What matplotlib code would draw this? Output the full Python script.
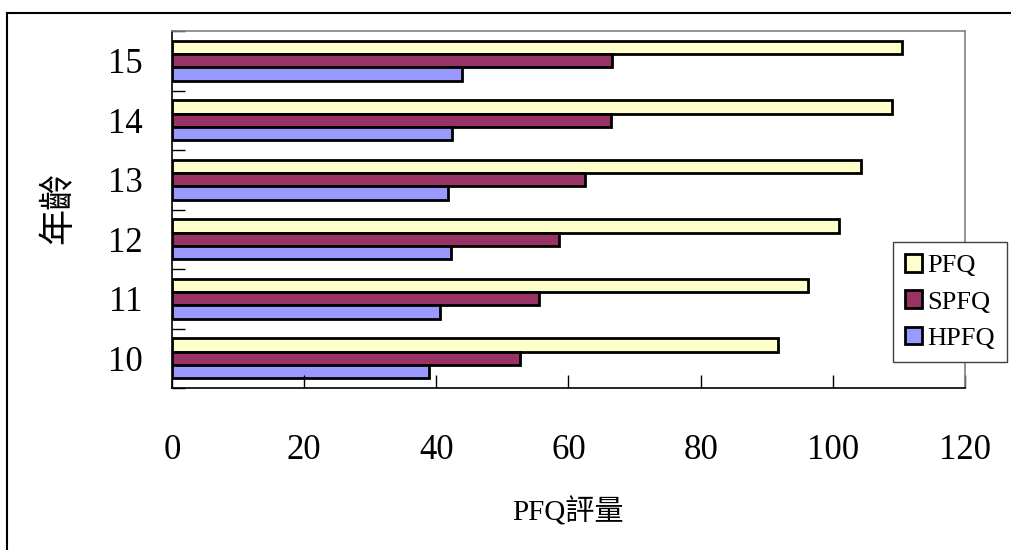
import numpy as np
import matplotlib
matplotlib.use("Agg")
import matplotlib.pyplot as plt
from matplotlib.lines import Line2D

plt.rcParams['font.family'] = ['Liberation Serif', 'Noto Sans CJK TC', 'DejaVu Sans']

ages = ["10", "11", "12", "13", "14", "15"]
series_names = ["PFQ", "SPFQ", "HPFQ"]
pfq = [91.7, 96.2, 101.0, 104.2, 108.9, 110.5]
spfq = [52.7, 55.6, 58.6, 62.5, 66.5, 66.6]
hpfq = [38.9, 40.6, 42.2, 41.7, 42.3, 43.9]
colors = ["#FFFFCC", "#993366", "#9999FF"]

W, H = 1012, 550
fig = plt.figure(figsize=(W / 100, H / 100), dpi=100)
ax = fig.add_axes([172 / W, 1 - 388 / H, (965 - 172) / W, (388 - 31) / H])

y = np.arange(len(ages))
h = 2 / 9
for vals, off, c, name in zip([pfq, spfq, hpfq], [h, 0, -h], colors, series_names):
    ax.barh(y + off, vals, height=h, color=c, edgecolor="black", linewidth=2.0, label=name)

ax.set_xlim(0, 120)
ax.set_ylim(-0.5, len(ages) - 0.5)
ax.set_xticks(np.arange(0, 121, 20))
ax.set_yticks(np.arange(-0.5, len(ages), 1))
ax.set_yticklabels([])
ax.set_yticks(y, minor=True)
ax.set_yticklabels(ages, minor=True)
ax.tick_params(axis="y", which="major", direction="in", length=9.4, width=1, color="black")
ax.tick_params(axis="y", which="minor", length=0, pad=21, labelsize=25)
ax.tick_params(axis="x", direction="in", length=9.4, width=1, color="black", pad=33, labelsize=25)

for s in ["left", "bottom"]:
    ax.spines[s].set_color("black")
    ax.spines[s].set_linewidth(1.2)
for s in ["top", "right"]:
    ax.spines[s].set_color("#808080")
    ax.spines[s].set_linewidth(1.2)

fig.text(60 / W, 1 - 208 / H, "年齡", rotation=90, ha="center", va="center", fontsize=26,
         fontweight="light")
fig.text(568 / W, 1 - 512 / H, "PFQ評量", ha="center", va="center", fontsize=21)

leg = fig.legend(loc="center", bbox_to_anchor=(950 / W, 1 - 302 / H), fontsize=19,
                 frameon=True, fancybox=False, edgecolor="#404040", framealpha=1,
                 handlelength=0.65, handleheight=0.65, handletextpad=0.2,
                 labelspacing=0.5, borderpad=0.45, borderaxespad=0)
leg.get_frame().set_linewidth(1.0)

# outer chart border
fig.add_artist(Line2D([7 / W, 7 / W], [0, 1 - 13 / H], color="black", linewidth=1.5))
fig.add_artist(Line2D([7 / W, 1], [1 - 13 / H, 1 - 13 / H], color="black", linewidth=1.5))

fig.savefig("out.png", dpi=100)
